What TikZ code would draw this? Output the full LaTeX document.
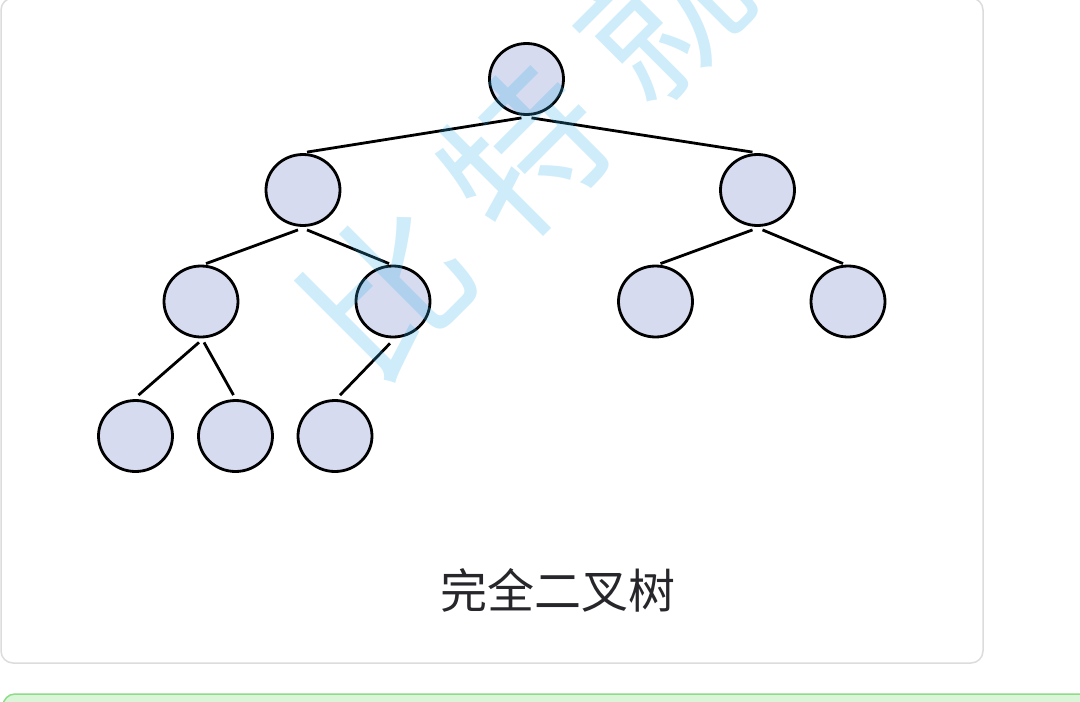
\documentclass[tikz,border=0pt]{standalone}
\usepackage{fontspec}
\newfontfamily\cjk{Noto Sans CJK SC}
\usetikzlibrary{shapes.geometric}
\definecolor{nodefill}{HTML}{D6DBF0}
\definecolor{cardline}{HTML}{DCDCDC}
\definecolor{greenfill}{HTML}{DAF5D8}
\definecolor{greenline}{HTML}{8EDC88}
\definecolor{wm}{HTML}{33B3EB}
\definecolor{captioncol}{HTML}{27272B}
\tikzset{
  tnode/.style={ellipse, draw=black, fill=nodefill, line width=2.8pt,
    minimum width=74pt, minimum height=71pt, inner sep=0pt},
  tedge/.style={draw=black, line width=2.8pt},
  wmchar/.style={text=wm, opacity=0.24, rotate=45, font=\cjk\fontsize{160}{160}\selectfont, inner sep=0pt}
}
\begin{document}
\begin{tikzpicture}[x=1pt,y=-1pt]
\useasboundingbox (0,0) rectangle (1080,702);
\clip (0,0) rectangle (1080,702);
\fill[white] (0,0) rectangle (1080,702);
% card
\draw[cardline, line width=1.5pt, rounded corners=12pt] (1,-2) rectangle (983,663);
% green box below
\draw[greenline, fill=greenfill, line width=1.5pt, rounded corners=12pt] (3,694) rectangle (1100,740);
% nodes
\node[tnode] (root) at (526.5,79) {};
\node[tnode] (L) at (303,190) {};
\node[tnode] (R) at (757.5,190) {};
\node[tnode] (LL) at (201,301.5) {};
\node[tnode] (LR) at (393,301.5) {};
\node[tnode] (RL) at (655.5,301.5) {};
\node[tnode] (RR) at (848,301.5) {};
\node[tnode] (LLL) at (135.5,436) {};
\node[tnode] (LLR) at (235.5,436) {};
\node[tnode] (LRL) at (335,436) {};
% edges
\draw[tedge] ([xshift=-5pt,yshift=-2pt]root.south) -- ([xshift=4pt,yshift=1pt]L.north);
\draw[tedge] ([xshift=5pt,yshift=-2pt]root.south) -- ([xshift=-5pt,yshift=1pt]R.north);
\draw[tedge] ([xshift=-5pt,yshift=-3pt]L.south) -- ([xshift=5pt,yshift=1pt]LL.north);
\draw[tedge] ([xshift=4pt,yshift=-3pt]L.south) -- ([xshift=-4pt,yshift=1pt]LR.north);
\draw[tedge] ([xshift=-5pt,yshift=-3pt]R.south) -- ([xshift=5pt,yshift=1pt]RL.north);
\draw[tedge] ([xshift=5pt,yshift=-3pt]R.south) -- ([xshift=-5pt,yshift=1pt]RR.north);
\draw[tedge] ([xshift=-2pt,yshift=-4pt]LL.south) -- ([xshift=3pt,yshift=4pt]LLL.north);
\draw[tedge] ([xshift=3pt,yshift=-4pt]LL.south) -- ([xshift=-2pt,yshift=4pt]LLR.north);
\draw[tedge] ([xshift=-3pt,yshift=-5pt]LR.south) -- ([xshift=5pt,yshift=4pt]LRL.north);
% caption
\node[text=captioncol, font=\cjk\fontsize{47}{47}\selectfont, inner sep=0pt] (cap) at (558,590) {完全二叉树};
% watermark
\node[wmchar] (w1) at (387,290) {比};
\node[wmchar] (w2) at (524,152) {特};
\node[wmchar] (w3) at (661,14) {就};
\node[wmchar] (w4) at (798,-124) {业};
\end{tikzpicture}
\end{document}
